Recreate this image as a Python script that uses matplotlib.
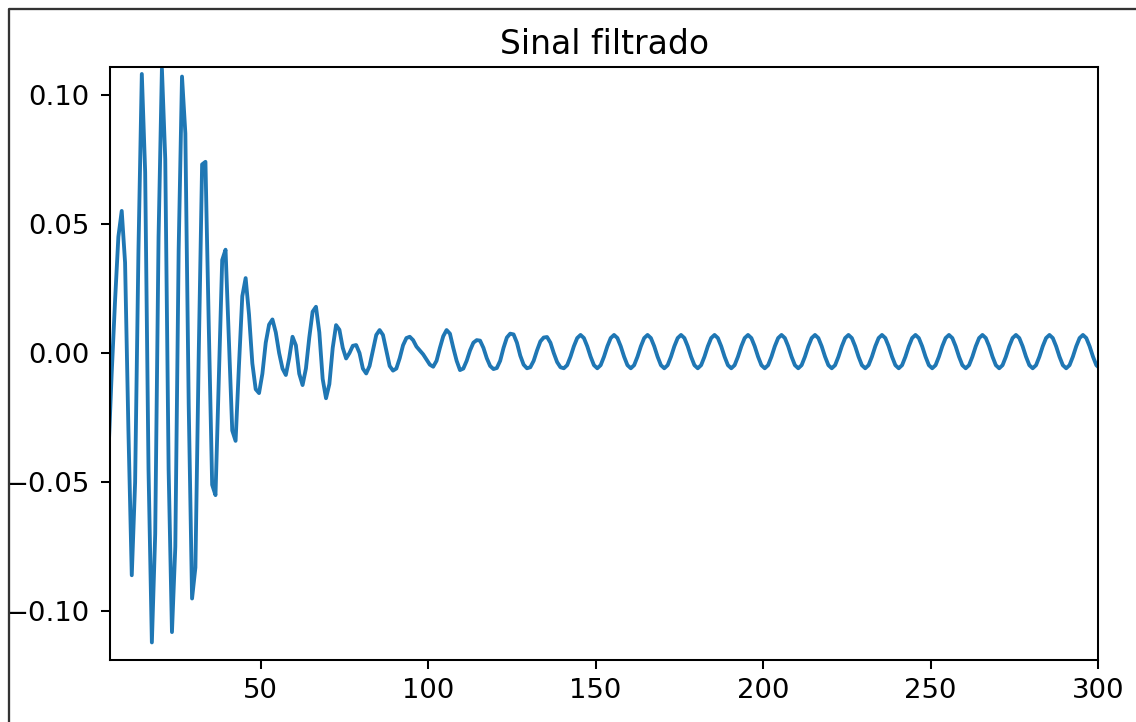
import numpy as np
import matplotlib
matplotlib.use("Agg")
import matplotlib.pyplot as plt
from matplotlib.lines import Line2D

# sample positions (1 unit apart) and filtered signal
t = np.arange(4.5, 301, 1.0)

transient = [
    -0.040, -0.008, 0.020, 0.045, 0.055, 0.035, -0.030, -0.086, -0.050, 0.040,
    0.108, 0.070, -0.045, -0.112, -0.070, 0.045, 0.110, 0.075, -0.045, -0.108,
    -0.075, 0.040, 0.107, 0.085, -0.020, -0.095, -0.083, 0.000, 0.073, 0.074,
    0.010, -0.051, -0.055, -0.010, 0.036, 0.040, 0.005, -0.030, -0.034, -0.005,
    0.022, 0.029, 0.015, -0.004, -0.014, -0.0155, -0.008, 0.004, 0.011, 0.013,
    0.008, 0.000, -0.006, -0.0085, -0.002, 0.0063, 0.003, -0.008, -0.0124, -0.006,
    0.006, 0.016, 0.0179, 0.008, -0.010, -0.0175, -0.012, 0.002, 0.0108, 0.009,
    0.002, -0.0021, 0.000, 0.0028, 0.0031, 0.000, -0.006, -0.0079, -0.005, 0.001,
    0.007, 0.0089, 0.007, 0.001, -0.005, -0.0068, -0.006, -0.002, 0.003, 0.0058,
    0.0063, 0.005, 0.0025, 0.001, -0.0005, -0.0025, -0.0045, -0.0053, -0.003, 0.002,
    0.0065, 0.0089, 0.0075, 0.002, -0.003, -0.0066, -0.006, -0.003, 0.001, 0.004,
    0.005, 0.0048, 0.002, -0.002, -0.005, -0.0062, -0.0058, -0.003, 0.002, 0.006,
    0.0075, 0.0072, 0.004, -0.001, -0.0045, -0.0059, -0.0055, -0.003, 0.001, 0.0045,
    0.006, 0.0062, 0.004, 0.000, -0.0035, -0.0055,
]

steady = [
    -0.0059, -0.0047, -0.0014, 0.0026, 0.0058, 0.0070, 0.0058, 0.0026, -0.0014, -0.0047,
    -0.0059, -0.0047, -0.0014, 0.0026, 0.0058, 0.0070, 0.0058, 0.0026, -0.0014, -0.0047,
    -0.0059, -0.0047, -0.0014, 0.0026, 0.0058, 0.0070, 0.0058, 0.0026, -0.0014, -0.0047,
    -0.0059, -0.0047, -0.0014, 0.0026, 0.0058, 0.0070, 0.0058, 0.0026, -0.0014, -0.0047,
    -0.0059, -0.0047, -0.0014, 0.0026, 0.0058, 0.0070, 0.0058, 0.0026, -0.0014, -0.0047,
    -0.0059, -0.0047, -0.0014, 0.0026, 0.0058, 0.0070, 0.0058, 0.0026, -0.0014, -0.0047,
    -0.0059, -0.0047, -0.0014, 0.0026, 0.0058, 0.0070, 0.0058, 0.0026, -0.0014, -0.0047,
    -0.0059, -0.0047, -0.0014, 0.0026, 0.0058, 0.0070, 0.0058, 0.0026, -0.0014, -0.0047,
    -0.0059, -0.0047, -0.0014, 0.0026, 0.0058, 0.0070, 0.0058, 0.0026, -0.0014, -0.0047,
    -0.0059, -0.0047, -0.0014, 0.0026, 0.0058, 0.0070, 0.0058, 0.0026, -0.0014, -0.0047,
    -0.0059, -0.0047, -0.0014, 0.0026, 0.0058, 0.0070, 0.0058, 0.0026, -0.0014, -0.0047,
    -0.0059, -0.0047, -0.0014, 0.0026, 0.0058, 0.0070, 0.0058, 0.0026, -0.0014, -0.0047,
    -0.0059, -0.0047, -0.0014, 0.0026, 0.0058, 0.0070, 0.0058, 0.0026, -0.0014, -0.0047,
    -0.0059, -0.0047, -0.0014, 0.0026, 0.0058, 0.0070, 0.0058, 0.0026, -0.0014, -0.0047,
    -0.0059, -0.0047, -0.0014, 0.0026, 0.0058, 0.0070, 0.0058, 0.0026, -0.0014, -0.0047,
    -0.0059, -0.0047, -0.0014, 0.0026, 0.0058, 0.0070, 0.0058, 0.0026, -0.0014, -0.0047,
    -0.0059,
]

signal = np.array(transient + steady)

# a slightly larger font than the default, like the screenshot
plt.rcParams['font.size'] = 10.75
plt.rcParams['ytick.major.pad'] = 4.5

W, H, DPI = 1136, 722, 184
fig = plt.figure(figsize=(W / DPI, H / DPI), dpi=DPI)

# the frame of the screenshot (left and top edges only)
fig.add_artist(Line2D([8.5 / W, 8.5 / W, 1.0], [0.0, 1 - 9 / H, 1 - 9 / H],
                      transform=fig.transFigure, color='#333333', linewidth=0.9))

ax = fig.add_axes([110 / W, 1 - 660 / H, (1098 - 110) / W, (660 - 67) / H])
ax.plot(t, signal)
ax.set_xlim(5, 300)
ax.set_ylim(-0.1188, 0.1107)
ax.set_title('Sinal filtrado', pad=5)

fig.savefig('out.png', dpi=DPI)
